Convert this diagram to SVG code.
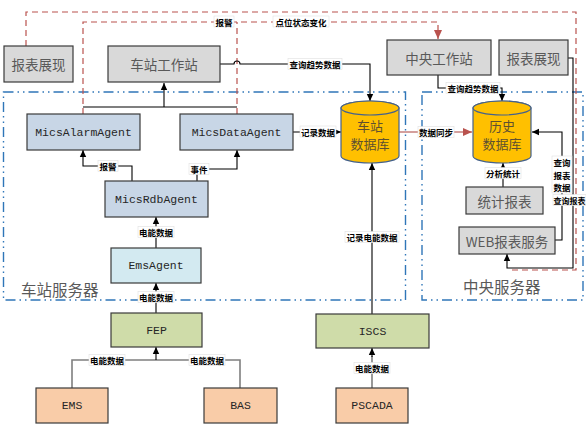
<svg xmlns="http://www.w3.org/2000/svg" width="586" height="427" viewBox="0 0 586 427">
<style>
.bx{stroke:#3a3a3a;stroke-width:1.2}
.gray{fill:#d9d9d9}
.agent{fill:#c8d6e6}
.ems{fill:#d3eaf1}
.green{fill:#cfdca9}
.peach{fill:#f9cca8}
.cyl{fill:#ffc000;stroke:#44618c;stroke-width:1.2}
.cn{font-family:"Noto Sans CJK SC","Noto Sans",sans-serif;font-size:13.5px;fill:#595959;text-anchor:middle;dominant-baseline:central}
.db{font-family:"Noto Sans CJK SC","Noto Sans",sans-serif;font-size:13px;fill:#5e5030;text-anchor:middle}
.mono{font-family:"Liberation Mono","DejaVu Sans Mono",monospace;font-size:11.5px;fill:#262626;text-anchor:middle;dominant-baseline:central}
.area{font-family:"Noto Sans CJK SC","Noto Sans",sans-serif;font-size:15.5px;fill:#595959}
.ln{fill:none;stroke:#000;stroke-width:1.1}
.lg{fill:none;stroke:#7f7f7f;stroke-width:1.6}
.red{fill:none;stroke:#b9524e;stroke-width:1.2;stroke-dasharray:6 4}
.reds{fill:none;stroke:#a9403c;stroke-width:1.2}
.bnd{fill:none;stroke:#2f76b8;stroke-width:1.4;stroke-dasharray:10 4 1.5 4 1.5 4}
.lb{fill:#fff;stroke:#e0e0e0;stroke-width:0.6}
.lt{font-family:"Noto Sans CJK SC",sans-serif;font-size:8.5px;font-weight:bold;fill:#000;text-anchor:middle;dominant-baseline:central}
</style>
<defs>
<marker id="ar" markerWidth="8" markerHeight="8" refX="7" refY="4" orient="auto" markerUnits="userSpaceOnUse"><path d="M0,0.8 L7,4 L0,7.2 Z" fill="#000"/></marker>
<marker id="arr" markerWidth="10" markerHeight="10" refX="9" refY="5" orient="auto" markerUnits="userSpaceOnUse"><path d="M0,1 L9,5 L0,9 Z" fill="#b9524e"/></marker>
</defs>

<g id="boundaries">
<rect class="bnd" x="3.5" y="92" width="402" height="208"/>
<rect class="bnd" x="422" y="92" width="161" height="208"/>
<text class="area" x="21" y="296">车站服务器</text>
<text class="area" x="463" y="293">中央服务器</text>
</g>

<g id="connectors">
<path class="red" d="M26,46 V12 H576 V270 H509"/>
<path class="red" d="M83,114 V22 H438 V39" marker-end="url(#arr)"/>
<path class="red" d="M237,114 V22"/>
<path class="ln" d="M83,107 H237"/>
<path class="ln" d="M164,107 V83" marker-end="url(#ar)"/>
<path class="ln" d="M220,64 H234 a3,3 0 0 1 6,0 H370 V101" marker-end="url(#ar)"/>
<path class="ln" d="M438,75 V88 H502 V101" marker-end="url(#ar)"/>
<path class="ln" d="M293,132 H341" marker-end="url(#ar)"/>
<path class="reds" d="M399,132 H472" marker-end="url(#arr)"/>
<path class="ln" d="M503,187 V163" marker-end="url(#ar)"/>
<path class="ln" d="M555,240 H562 V132 H532" marker-end="url(#ar)"/>
<path class="ln" d="M568,58 H573 V268 H507 V254" marker-end="url(#ar)" stroke="#333"/>
<path class="ln" d="M132,181 V166 H83 V150" marker-end="url(#ar)"/>
<path class="ln" d="M197,181 V169 H237 V150" marker-end="url(#ar)"/>
<path class="ln" d="M156,248 V217" marker-end="url(#ar)"/>
<path class="ln" d="M156,313 V283" marker-end="url(#ar)"/>
<path class="lg" d="M72,388 V360 H240 V388"/>
<path class="ln" d="M156,360 V347" marker-end="url(#ar)"/>
<path class="lg" d="M372,388 V356"/>
<path class="ln" d="M372,357 V348" marker-end="url(#ar)"/>
<path class="ln" d="M372,314 V163" marker-end="url(#ar)"/>

<rect class="lb" x="214" y="16" width="20" height="11"/><text class="lt" x="224" y="21.5">报警</text>
<rect class="lb" x="273" y="16" width="56" height="11"/><text class="lt" x="301" y="21.5">点位状态变化</text>
<rect class="lb" x="288" y="58.5" width="54" height="11"/><text class="lt" x="315" y="64">查询趋势数据</text>
<rect class="lb" x="446" y="82.5" width="54" height="11"/><text class="lt" x="473" y="88">查询趋势数据</text>
<rect class="lb" x="300" y="126" width="36" height="11"/><text class="lt" x="318" y="131.5">记录数据</text>
<rect class="lb" x="418" y="126.5" width="36" height="11"/><text class="lt" x="436" y="132">数据同步</text>
<rect class="lb" x="485" y="167.5" width="36" height="11"/><text class="lt" x="503" y="173">分析统计</text>
<rect class="lb" x="552" y="156" width="20" height="37"/>
<text class="lt" x="562" y="162">查询</text><text class="lt" x="562" y="174.5">报表</text><text class="lt" x="562" y="187">数据</text>
<rect class="lb" x="553" y="194.5" width="33" height="11"/><text class="lt" x="569.5" y="200" style="font-size:8px">查询报表</text>
<rect class="lb" x="98" y="160.5" width="20" height="11"/><text class="lt" x="108" y="166">报警</text>
<rect class="lb" x="189" y="163.5" width="20" height="11"/><text class="lt" x="199" y="169">事件</text>
<rect class="lb" x="138" y="226.5" width="36" height="11"/><text class="lt" x="156" y="232">电能数据</text>
<rect class="lb" x="138" y="291.5" width="36" height="11"/><text class="lt" x="156" y="297">电能数据</text>
<rect class="lb" x="89" y="354.5" width="36" height="11"/><text class="lt" x="107" y="360">电能数据</text>
<rect class="lb" x="189" y="354.5" width="36" height="11"/><text class="lt" x="207" y="360">电能数据</text>
<rect class="lb" x="354" y="362.5" width="36" height="11"/><text class="lt" x="372" y="368">电能数据</text>
<rect class="lb" x="345" y="231.5" width="54" height="11"/><text class="lt" x="372" y="237">记录电能数据</text>
</g>

<g id="report-left"><rect class="bx gray" x="4" y="46" width="69" height="36"/><text class="cn" x="38.5" y="64">报表展现</text></g>
<g id="station-ws"><rect class="bx gray" x="108" y="46" width="112" height="36"/><text class="cn" x="164" y="64">车站工作站</text></g>
<g id="central-ws"><rect class="bx gray" x="387" y="40" width="104" height="35"/><text class="cn" x="439" y="57.5">中央工作站</text></g>
<g id="report-right"><rect class="bx gray" x="499" y="40" width="69" height="35"/><text class="cn" x="533.5" y="57.5">报表展现</text></g>
<g id="alarm-agent"><rect class="bx agent" x="27" y="114" width="113" height="36"/><text class="mono" x="83.5" y="132">MicsAlarmAgent</text></g>
<g id="data-agent"><rect class="bx agent" x="180" y="114" width="113" height="36"/><text class="mono" x="236.5" y="132">MicsDataAgent</text></g>
<g id="rdb-agent"><rect class="bx agent" x="105" y="181" width="103" height="36"/><text class="mono" x="156.5" y="199">MicsRdbAgent</text></g>
<g id="ems-agent"><rect class="bx ems" x="111" y="248" width="90" height="35"/><text class="mono" x="156" y="265.5">EmsAgent</text></g>
<g id="fep"><rect class="bx green" x="111" y="313" width="91" height="34"/><text class="mono" x="156.5" y="330">FEP</text></g>
<g id="iscs"><rect class="bx green" x="316" y="314" width="113" height="34"/><text class="mono" x="372.5" y="331">ISCS</text></g>
<g id="ems"><rect class="bx peach" x="36" y="388" width="72" height="35"/><text class="mono" x="72" y="405.5">EMS</text></g>
<g id="bas"><rect class="bx peach" x="204" y="388" width="73" height="35"/><text class="mono" x="240.5" y="405.5">BAS</text></g>
<g id="pscada"><rect class="bx peach" x="336" y="388" width="72" height="35"/><text class="mono" x="372" y="405.5">PSCADA</text></g>
<g id="station-db">
<path class="cyl" d="M341,108 V156 A29,7 0 0 0 399,156 V108 A29,7 0 0 0 341,108 Z"/>
<ellipse class="cyl" cx="370" cy="108" rx="29" ry="7"/>
<text class="db" x="370" y="131">车站</text>
<text class="db" x="370" y="149">数据库</text>
</g>
<g id="history-db">
<path class="cyl" d="M473,108 V156 A29,7 0 0 0 531,156 V108 A29,7 0 0 0 473,108 Z"/>
<ellipse class="cyl" cx="502" cy="108" rx="29" ry="7"/>
<text class="db" x="502" y="131">历史</text>
<text class="db" x="502" y="149">数据库</text>
</g>
<g id="stat-report"><rect class="bx gray" x="466" y="187" width="77" height="27"/><text class="cn" x="504.5" y="200.5">统计报表</text></g>
<g id="web-report"><rect class="bx gray" x="459" y="227" width="96" height="27"/><text class="cn" x="507" y="240.5">WEB报表服务</text></g>
</svg>
